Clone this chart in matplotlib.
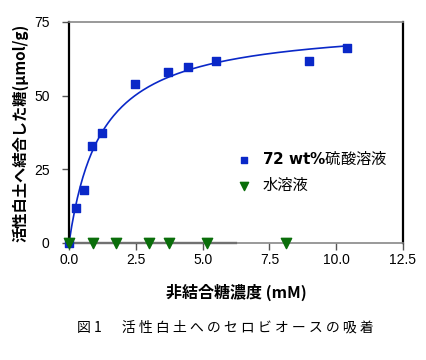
import matplotlib
matplotlib.use('Agg')
import matplotlib.pyplot as plt
import numpy as np

plt.rcParams['font.family'] = ['Noto Sans CJK JP', 'DejaVu Sans']
plt.rcParams['mathtext.fontset'] = 'dejavusans'

# 72 wt% 硫酸溶液
x_acido = [0.0, 0.27, 0.57, 0.86, 1.24, 2.47, 3.72, 4.44, 5.50, 8.98, 10.39]
y_acido = [0.0, 11.9, 18.1, 33.0, 37.4, 54.0, 58.1, 59.8, 61.9, 61.9, 66.0]

# 水溶液
x_agua = [0.0, 0.91, 1.75, 2.99, 3.74, 5.15, 8.11]
y_agua = [0.0, 0.0, 0.0, 0.0, 0.0, 0.0, 0.0]

x_ticks = [0.0, 2.5, 5.0, 7.5, 10.0, 12.5]
y_ticks = [0, 25, 50, 75]

azul = '#0a28c8'
verde = '#0a6e0a'


def ajuste_langmuir(x, y):
    # ajuste por mínimos quadrados: y = Q*K*x/(1+K*x)
    x = np.asarray(x)
    y = np.asarray(y)
    melhor = None
    for k in np.linspace(0.05, 5, 2000):
        f = k * x / (1 + k * x)
        q = (y * f).sum() / (f * f).sum()
        erro = ((y - q * f) ** 2).sum()
        if melhor is None or erro < melhor[0]:
            melhor = (erro, q, k)
    return melhor[1], melhor[2]


q, k = ajuste_langmuir(x_acido, y_acido)
xs = np.linspace(0, max(x_acido), 200)
ys = q * k * xs / (1 + k * xs)

fig = plt.figure(figsize=(4.26, 3.6), dpi=100)
ax = fig.add_axes([0.162, 0.325, 0.784, 0.614])

ax.plot(xs, ys, color=azul, lw=1.2, zorder=2)
ax.plot([0, 6.25], [0, 0], color='black', lw=1.6, zorder=2, clip_on=False)
ax.scatter(x_acido, y_acido, marker='s', s=38, color=azul, zorder=3,
           label=r'$\mathbf{72\ wt\%}$硫酸溶液', clip_on=False)
ax.scatter(x_agua, y_agua, marker='v', s=55, color=verde, zorder=4,
           label='水溶液', clip_on=False)

ax.set_xlim(0, 12.5)
ax.set_ylim(0, 75)
ax.set_xticks(x_ticks)
ax.set_xticklabels([f'{v:.1f}' for v in x_ticks], family='Liberation Sans')
ax.set_yticks(y_ticks)
ax.set_yticklabels([str(v) for v in y_ticks], family='Liberation Sans')
ax.tick_params(labelsize=10, length=5, width=1, color='#555555')
ax.tick_params(axis='y', pad=9)
ax.tick_params(axis='x', pad=2)

for lado in ['left', 'right']:
    ax.spines[lado].set_linewidth(1.6)
    ax.spines[lado].set_color('black')
ax.spines['top'].set_color('#888888')
ax.spines['top'].set_linewidth(1.2)
ax.spines['bottom'].set_color('#888888')
ax.spines['bottom'].set_linewidth(1.2)

ax.set_xlabel('非結合糖濃度 (mM)', fontsize=11.5, fontweight='bold', labelpad=12)
ax.set_ylabel('活性白土へ結合した糖(μmol/g)', fontsize=11, fontweight='bold', labelpad=4)

ax.legend(loc='upper left', bbox_to_anchor=(0.46, 0.445), frameon=False,
          fontsize=11, handletextpad=0.2, labelspacing=0.6, markerscale=0.8,
          borderaxespad=0)

fig.text(0.53, 0.09, '図 1 　 活 性 白 土 へ の セ ロ ビ オ ー ス の 吸 着',
         ha='center', va='center', fontsize=10)

plt.savefig('out.png', dpi=100)
